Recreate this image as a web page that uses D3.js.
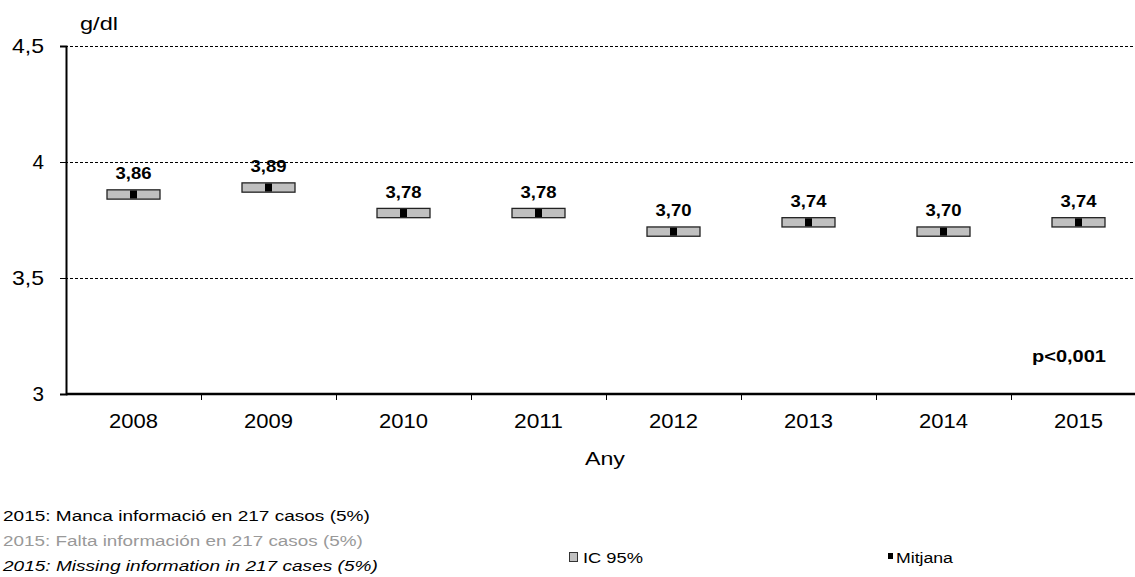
<!DOCTYPE html>
<html><head><meta charset="utf-8">
<script src="https://cdn.jsdelivr.net/npm/d3@7"></script>
<style>body{margin:0;background:#fff}svg{display:block;font-family:Arial,"Liberation Sans",sans-serif}</style>
</head><body>
<svg id="c" width="1135" height="577"></svg>
<script>
const years = ["2008","2009","2010","2011","2012","2013","2014","2015"];
const means = [3.86,3.89,3.78,3.78,3.70,3.74,3.70,3.74];
const ciLow = [3.84,3.87,3.76,3.76,3.68,3.72,3.68,3.72];
const ciHigh = [3.88,3.91,3.80,3.80,3.72,3.76,3.72,3.76];
const yTicks = [3,3.5,4,4.5];
const notes = ["2015: Manca informació en 217 casos (5%)","2015: Falta información en 217 casos (5%)","2015: Missing information in 217 cases (5%)"];

const svg = d3.select("#c");
const x = d3.scaleBand().domain(years).range([66,1146]);
const y = d3.scaleLinear().domain([3,4.5]).range([394,46]);
const fmt = v => d3.format(".2f")(v).replace(".",",");
const fmtT = v => String(v).replace(".",",");

// text helper: draws text at (px,py) stretched horizontally to a target width
function label(parent, px, py, str, opt) {
  const g = parent.append("g");
  const t = g.append("text").attr("x",0).attr("y",0)
    .attr("font-size",opt.size).attr("text-anchor",opt.anchor||"start")
    .attr("fill",opt.fill||"#000")
    .attr("font-weight",opt.bold?"bold":"normal")
    .attr("font-style",opt.italic?"italic":"normal").text(str);
  const w = t.node().getComputedTextLength();
  const k = opt.width ? opt.width / w : 1;
  g.attr("transform",`translate(${px},${py}) scale(${k},1)`);
  return g;
}

// gridlines
svg.append("g").selectAll("line").data(yTicks.filter(t=>t>3)).join("line")
  .attr("x1",60).attr("x2",1135).attr("y1",d=>y(d)+0.5).attr("y2",d=>y(d)+0.5)
  .attr("stroke","#000").attr("stroke-width",1).attr("stroke-dasharray","3,2");

// y axis
const ya = svg.append("g").attr("transform","translate(66,0)")
  .call(d3.axisLeft(y).tickValues(yTicks).tickFormat(fmtT).tickSize(6));
ya.select(".domain").attr("stroke-width",2);
ya.selectAll(".tick text").remove();
yTicks.forEach(v => {
  const s = fmtT(v);
  label(svg, 44, y(v)+7, s, {size:20, anchor:"end", width: s.length>1?32:11.5});
});

// x axis
const xa = svg.append("g").attr("transform","translate(0,394)");
xa.append("line").attr("x1",66).attr("x2",1146).attr("stroke","#000").attr("stroke-width",2.5);
xa.selectAll("line.t").data(years.slice(1)).join("line").attr("class","t")
  .attr("x1",d=>x(d)+0.5).attr("x2",d=>x(d)+0.5).attr("y1",0).attr("y2",6).attr("stroke","#000");
years.forEach(d => label(svg, x(d)+x.bandwidth()/2, 428, d, {size:21, anchor:"middle", width:49}));

// CI boxes
const bw = 53;
svg.append("g").selectAll("rect").data(years).join("rect")
  .attr("x",(d,i)=>x(d)+x.bandwidth()/2-bw/2).attr("y",(d,i)=>y(ciHigh[i]))
  .attr("width",bw).attr("height",(d,i)=>y(ciLow[i])-y(ciHigh[i]))
  .attr("fill","#c0c0c0").attr("stroke","#222").attr("stroke-width",1.3);
// means
svg.append("g").selectAll("rect").data(years).join("rect")
  .attr("x",(d,i)=>x(d)+x.bandwidth()/2-3.5).attr("y",(d,i)=>y(means[i])-4)
  .attr("width",7).attr("height",8).attr("fill","#000");
// value labels
years.forEach((d,i) => label(svg, x(d)+x.bandwidth()/2, y(ciHigh[i])-10.5, fmt(means[i]),
  {size:16, anchor:"middle", bold:true, width:36}));

// titles
label(svg, 80, 30, "g/dl", {size:19, width:38});
label(svg, 585, 465, "Any", {size:19, width:40});
label(svg, 1032, 362, "p<0,001", {size:17, bold:true, width:74});

// notes
const nc = ["#000","#999","#000"];
const nl = [367,360,375];
notes.forEach((d,i) => label(svg, 3, 521+i*25, d, {size:15.5, fill:nc[i], italic:i===2, width:nl[i]}));

// legend
svg.append("rect").attr("x",569.5).attr("y",552.5).attr("width",8).attr("height",9).attr("fill","#c0c0c0").attr("stroke","#333");
label(svg, 583, 563, "IC 95%", {size:15.5, width:60});
svg.append("rect").attr("x",888).attr("y",553).attr("width",5).attr("height",6).attr("fill","#000");
label(svg, 896, 563, "Mitjana", {size:15.5, width:57});
</script>
</body></html>
